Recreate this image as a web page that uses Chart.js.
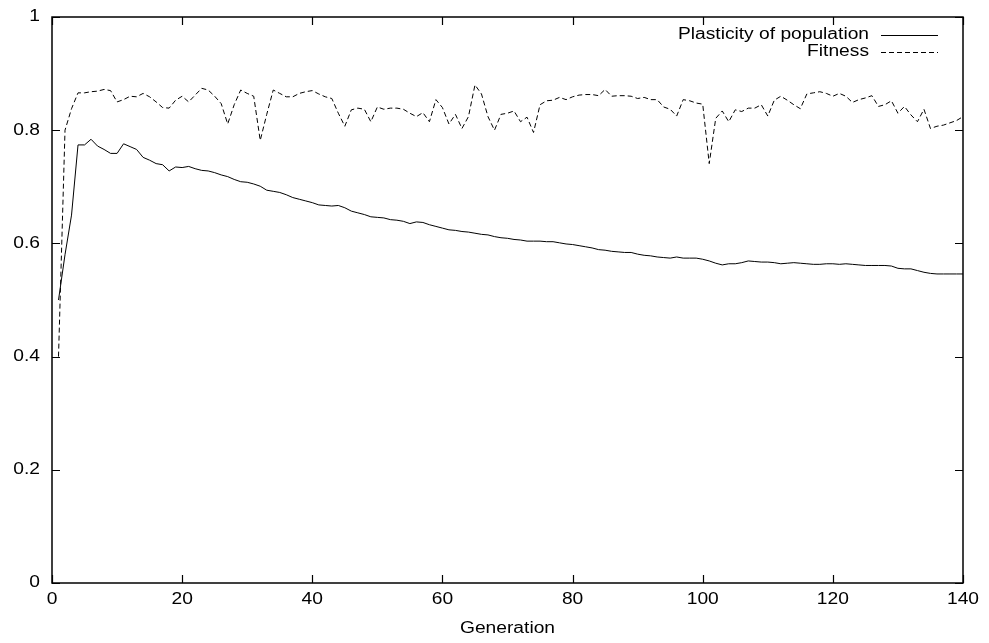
<!DOCTYPE html>
<html><head><meta charset="utf-8">
<script src="https://cdn.jsdelivr.net/npm/chart.js@4"></script>
<style>html,body{margin:0;padding:0;background:#fff;}#wrap{width:989px;height:643px;}</style>
</head><body><div id="wrap"><canvas id="c" width="989" height="643"></canvas></div>
<script>
const generations = [1,2,3,4,5,6,7,8,9,10,11,12,13,14,15,16,17,18,19,20,21,22,23,24,25,26,27,28,29,30,31,32,33,34,35,36,37,38,39,40,41,42,43,44,45,46,47,48,49,50,51,52,53,54,55,56,57,58,59,60,61,62,63,64,65,66,67,68,69,70,71,72,73,74,75,76,77,78,79,80,81,82,83,84,85,86,87,88,89,90,91,92,93,94,95,96,97,98,99,100,101,102,103,104,105,106,107,108,109,110,111,112,113,114,115,116,117,118,119,120,121,122,123,124,125,126,127,128,129,130,131,132,133,134,135,136,137,138,139,140];
const plasticity = [0.500,0.580,0.650,0.774,0.774,0.784,0.772,0.766,0.759,0.759,0.776,0.771,0.766,0.752,0.747,0.741,0.739,0.728,0.735,0.734,0.736,0.732,0.729,0.728,0.725,0.721,0.718,0.713,0.709,0.708,0.705,0.701,0.694,0.692,0.690,0.686,0.681,0.678,0.675,0.672,0.668,0.667,0.666,0.667,0.663,0.657,0.654,0.651,0.647,0.646,0.645,0.642,0.641,0.639,0.635,0.638,0.637,0.633,0.630,0.627,0.624,0.623,0.621,0.620,0.618,0.616,0.615,0.612,0.610,0.609,0.607,0.606,0.604,0.604,0.604,0.603,0.603,0.601,0.599,0.598,0.596,0.594,0.592,0.589,0.588,0.586,0.585,0.584,0.584,0.581,0.579,0.578,0.576,0.575,0.574,0.576,0.574,0.574,0.574,0.572,0.569,0.565,0.562,0.564,0.564,0.566,0.569,0.568,0.567,0.567,0.566,0.564,0.565,0.566,0.565,0.564,0.563,0.563,0.564,0.564,0.563,0.564,0.563,0.562,0.561,0.561,0.561,0.561,0.560,0.556,0.555,0.555,0.552,0.549,0.547,0.546,0.546,0.546,0.546,0.546];
const fitness = [0.400,0.800,0.838,0.866,0.866,0.868,0.869,0.872,0.870,0.850,0.854,0.860,0.859,0.865,0.859,0.850,0.840,0.839,0.853,0.860,0.850,0.862,0.874,0.871,0.860,0.847,0.811,0.845,0.871,0.865,0.860,0.782,0.828,0.871,0.865,0.859,0.859,0.865,0.868,0.870,0.864,0.859,0.856,0.830,0.807,0.836,0.839,0.837,0.815,0.841,0.837,0.839,0.839,0.837,0.830,0.824,0.831,0.815,0.854,0.840,0.811,0.828,0.803,0.824,0.880,0.864,0.824,0.800,0.828,0.830,0.834,0.815,0.823,0.796,0.845,0.852,0.853,0.858,0.854,0.859,0.862,0.863,0.863,0.861,0.872,0.860,0.861,0.861,0.860,0.856,0.858,0.854,0.854,0.841,0.837,0.825,0.854,0.852,0.848,0.846,0.741,0.821,0.834,0.815,0.836,0.833,0.839,0.839,0.845,0.825,0.853,0.860,0.853,0.845,0.838,0.864,0.866,0.868,0.865,0.860,0.865,0.860,0.849,0.854,0.857,0.861,0.842,0.845,0.852,0.830,0.842,0.827,0.815,0.837,0.803,0.807,0.809,0.813,0.817,0.824];
const xTickValues = [0,20,40,60,80,100,120,140];
const xTickLabels = ['0','20','40','60','80','100','120','140'];
const yTickValues = [0,0.2,0.4,0.6,0.8,1];
const yTickLabels = ['0','0.2','0.4','0.6','0.8','1'];
const seriesNames = ['Plasticity of population','Fitness'];
const xTitle = 'Generation';

const FONT_FAMILY = '"Liberation Sans", Arial, Helvetica, sans-serif';
const FONT_SIZE = 16;
const STRETCH = 1.2;

function stretchedText(ctx, text, x, y, align) {
  ctx.save();
  ctx.font = FONT_SIZE + 'px ' + FONT_FAMILY;
  const w = ctx.measureText(text).width * STRETCH;
  let left = x;
  if (align === 'center') left = x - w / 2;
  else if (align === 'right') left = x - w;
  ctx.translate(left, y);
  ctx.scale(STRETCH, 1);
  ctx.textAlign = 'left';
  ctx.textBaseline = 'middle';
  ctx.fillStyle = '#000';
  ctx.fillText(text, 0, 0);
  ctx.restore();
}

const framePlugin = {
  id: 'gnuframe',
  afterDatasetsDraw(chart) {
    const ctx = chart.ctx, a = chart.chartArea, x = chart.scales.x, y = chart.scales.y;
    ctx.save();
    ctx.strokeStyle = '#000';
    ctx.lineWidth = 1.5;
    ctx.setLineDash([]);
    ctx.strokeRect(a.left, a.top, a.right - a.left, a.bottom - a.top);
    const T = 8;
    ctx.lineWidth = 1.2;
    ctx.beginPath();
    xTickValues.forEach(v => {
      const px = Math.round(x.getPixelForValue(v)) + 0.5;
      ctx.moveTo(px, a.bottom); ctx.lineTo(px, a.bottom - T);
      ctx.moveTo(px, a.top); ctx.lineTo(px, a.top + T);
    });
    yTickValues.forEach(v => {
      const py = Math.round(y.getPixelForValue(v)) + 0.5;
      ctx.moveTo(a.left, py); ctx.lineTo(a.left + T, py);
      ctx.moveTo(a.right, py); ctx.lineTo(a.right - T, py);
    });
    ctx.stroke();
    ctx.restore();

    xTickValues.forEach((v, i) => stretchedText(ctx, xTickLabels[i], x.getPixelForValue(v), a.bottom + 17, 'center'));
    yTickValues.forEach((v, i) => stretchedText(ctx, yTickLabels[i], a.left - 12, y.getPixelForValue(v), 'right'));
    stretchedText(ctx, xTitle, (a.left + a.right) / 2, a.bottom + 46, 'center');

    // legend (gnuplot style: text then sample)
    const textRight = 869, sx0 = 881, sx1 = 938;
    const rows = [35, 52];
    chart.data.datasets.forEach((ds, i) => {
      stretchedText(ctx, ds.label, textRight, rows[i], 'right');
      ctx.save();
      ctx.strokeStyle = '#000';
      ctx.lineWidth = 1;
      ctx.setLineDash(ds.borderDash || []);
      ctx.beginPath();
      ctx.moveTo(sx0, rows[i] + 0.5);
      ctx.lineTo(sx1, rows[i] + 0.5);
      ctx.stroke();
      ctx.restore();
    });
  }
};

new Chart(document.getElementById('c'), {
  type: 'line',
  data: {
    datasets: [
      { label: seriesNames[0], data: generations.map((g, i) => ({x: g, y: plasticity[i]})),
        borderColor: '#000', borderWidth: 1, pointRadius: 0, tension: 0, fill: false },
      { label: seriesNames[1], data: generations.map((g, i) => ({x: g, y: fitness[i]})),
        borderColor: '#000', borderWidth: 1, borderDash: [5, 3], pointRadius: 0, tension: 0, fill: false }
    ]
  },
  options: {
    responsive: false,
    animation: false,
    devicePixelRatio: 1,
    layout: { padding: { left: 52, right: 26, top: 17, bottom: 60 } },
    plugins: { legend: { display: false }, tooltip: { enabled: false } },
    scales: {
      x: { type: 'linear', min: 0, max: 140, display: false },
      y: { type: 'linear', min: 0, max: 1, display: false }
    }
  },
  plugins: [framePlugin]
});
</script>
</body></html>
